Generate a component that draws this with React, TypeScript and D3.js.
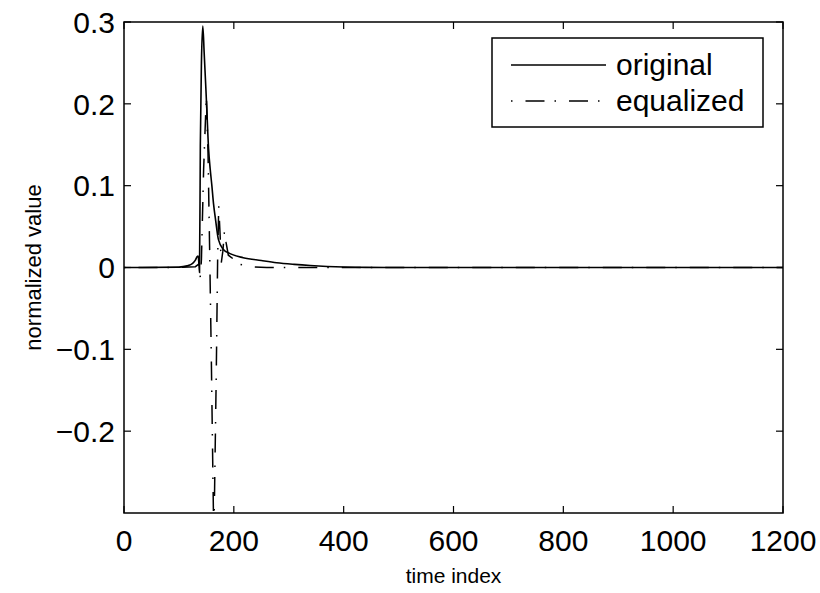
import React from 'react';
import * as d3 from 'd3';

// solid curve ("original")
const origT = [0, 100, 115, 125, 130, 133, 135, 136.5, 137.5, 139, 141, 143.5, 146, 149, 151, 154, 157, 160, 163, 167, 172, 181, 193, 217, 250, 278, 310, 339, 370, 400, 440, 480, 1200];
const origV = [0, 0.0005, 0.002, 0.005, 0.009, 0.013, 0.014, 0.004, -0.006, 0.15, 0.25, 0.295, 0.262, 0.22, 0.19, 0.145, 0.12, 0.1, 0.078, 0.057, 0.034, 0.022, 0.017, 0.012, 0.0085, 0.0058, 0.0038, 0.0024, 0.0013, 0.0006, 0.0001, 0, 0];

// dash-dot curve ("equalized")
const eqT = [0, 100, 130, 136, 139, 141, 145, 150, 153, 156, 159, 162, 163.5, 165, 168, 170.5, 172.5, 175, 177, 180, 183, 186, 190, 200, 210, 230, 260, 1200];
const eqV = [0, 0, 0.001, 0.004, -0.012, 0.01, 0.12, 0.21, 0.14, 0.02, -0.11, -0.26, -0.33, -0.27, -0.13, 0.01, 0.075, 0.04, 0.005, 0.02, 0.045, 0.03, 0.015, 0.01, 0.004, 0.001, 0, 0];

const xTicks = [0, 200, 400, 600, 800, 1000, 1200];
const yTicks = [-0.2, -0.1, 0, 0.1, 0.2, 0.3];
const legendNames = ['original', 'equalized'];

const W = 820, H = 593;
const m = {left: 124, right: 37, top: 22, bottom: 80};
const font = '"Liberation Sans", Arial, Helvetica, sans-serif';
const dash = '1.5,13,19,10';

const fmtY = (v: number) => (v === 0 ? '0' : (v < 0 ? '\u2212' : '') + Math.abs(v).toFixed(1));

const App = () => {
  const x = d3.scaleLinear().domain([0, 1200]).range([m.left, W - m.right]);
  const y = d3.scaleLinear().domain([-0.3, 0.3]).range([H - m.bottom, m.top]);

  const smooth = d3.line<[number, number]>()
    .x(d => x(d[0]))
    .y(d => y(d[1]))
    .curve(d3.curveMonotoneX);
  const straight = d3.line<[number, number]>()
    .x(d => x(d[0]))
    .y(d => y(d[1]));

  const origPts = origT.map((t, i) => [t, origV[i]] as [number, number]);
  const eqPts = eqT.map((t, i) => [t, eqV[i]] as [number, number]);

  const x0 = x.range()[0], x1 = x.range()[1];
  const y0 = y.range()[0], y1 = y.range()[1];
  const tk = 7;

  // legend box
  const lg = {x: 492, y: 38, w: 271, h: 89};
  const rowY = [65, 101];

  return (
    <svg width={W} height={H} style={{position: 'absolute', left: 0, top: 0, background: '#fff'}} fontFamily={font}>
      <defs>
        <clipPath id="plotArea">
          <rect x={x0} y={y1} width={x1 - x0} height={y0 - y1} />
        </clipPath>
      </defs>

      <g clipPath="url(#plotArea)">
        <path d={smooth(origPts) || ''} fill="none" stroke="#000" strokeWidth={1.6} />
        <path d={straight(eqPts) || ''} fill="none" stroke="#000" strokeWidth={1.5} strokeDasharray={dash} />
      </g>

      {/* ticks, inward on all four sides */}
      {xTicks.map(t => (
        <g key={'x' + t}>
          <line x1={x(t)} x2={x(t)} y1={y0} y2={y0 - tk} stroke="#000" strokeWidth={1.2} />
          <line x1={x(t)} x2={x(t)} y1={y1} y2={y1 + tk} stroke="#000" strokeWidth={1.2} />
          <text x={x(t)} y={y0 + 38} textAnchor="middle" fontSize={30}>{t}</text>
        </g>
      ))}
      {yTicks.map(t => (
        <g key={'y' + t}>
          <line x1={x0} x2={x0 + tk} y1={y(t)} y2={y(t)} stroke="#000" strokeWidth={1.2} />
          <line x1={x1} x2={x1 - tk} y1={y(t)} y2={y(t)} stroke="#000" strokeWidth={1.2} />
          <text x={x0 - 9} y={y(t)} dy="0.36em" textAnchor="end" fontSize={30}>{fmtY(t)}</text>
        </g>
      ))}

      <rect x={x0} y={y1} width={x1 - x0} height={y0 - y1} fill="none" stroke="#000" strokeWidth={1.5} />

      <text x={(x0 + x1) / 2} y={H - 10} textAnchor="middle" fontSize={21}>time index</text>
      <text transform={`translate(41,${(y0 + y1) / 2}) rotate(-90)`} textAnchor="middle" fontSize={22}>normalized value</text>

      {/* legend */}
      <rect x={lg.x} y={lg.y} width={lg.w} height={lg.h} fill="#fff" stroke="#000" strokeWidth={1.5} />
      {legendNames.map((n, i) => (
        <g key={n}>
          <line x1={lg.x + 19} x2={lg.x + 114} y1={rowY[i]} y2={rowY[i]} stroke="#000" strokeWidth={1.5}
            strokeDasharray={i === 1 ? dash : undefined} />
          <text x={lg.x + 124} y={rowY[i]} dy="0.33em" fontSize={30}>{n}</text>
        </g>
      ))}
    </svg>
  );
};

export default App;
